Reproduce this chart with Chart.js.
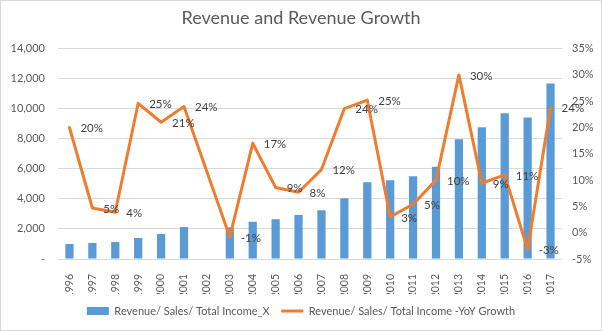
<!DOCTYPE html>
<html>
<head>
<meta charset="utf-8">
<script src="https://cdn.jsdelivr.net/npm/chart.js@4"></script>
<style>
  body { margin: 0; background: #fff; }
  #wrap { width: 600px; height: 329px; border: 1px solid #d9d9d9; }
</style>
</head>
<body>
<div id="wrap"><canvas id="revChart" width="600" height="329"></canvas></div>
<script>
// データ
const years = ['1996','1997','1998','1999','2000','2001','2002','2003','2004','2005','2006',
               '2007','2008','2009','2010','2011','2012','2013','2014','2015','2016','2017'];
const revenue = [1000, 1060, 1130, 1390, 1660, 2130, null, 2120, 2480, 2650, 2920,
                 3250, 4050, 5110, 5240, 5510, 6130, 7960, 8760, 9690, 9420, 11680];
const growth = [20, 4.7, 3.9, 24.6, 21, 24, null, -0.8, 17, 8.6, 7.7,
                12, 23.6, 25.2, 3, 5.4, 10, 30, 9.4, 11, -3.2, 23.8];

const FONT = 'Lato, "Open Sans", sans-serif';
const GREY = '#595959';

// 折れ線のラベル（点の右側）
const growthLabels = {
  id: 'growthLabels',
  afterDatasetsDraw(chart) {
    const meta = chart.getDatasetMeta(1);
    const ctx = chart.ctx;
    ctx.save();
    ctx.font = '11.5px ' + FONT;
    ctx.fillStyle = '#404040';
    ctx.textAlign = 'left';
    ctx.textBaseline = 'middle';
    meta.data.forEach((pt, i) => {
      const v = growth[i];
      if (v === null) return;
      ctx.fillText(Math.round(v) + '%', pt.x + 11, pt.y + 1);
    });
    ctx.restore();
  }
};

const ctx = document.getElementById('revChart').getContext('2d');
const revChart = new Chart(ctx, {
  data: {
    labels: years,
    datasets: [{
      type: 'bar',
      label: 'Revenue/ Sales/ Total Income_X',
      data: revenue,
      backgroundColor: '#5B9BD5',
      borderWidth: 0,
      barPercentage: 0.36,
      categoryPercentage: 1,
      yAxisID: 'y',
      order: 2,
      pointStyle: 'rect'
    }, {
      type: 'line',
      label: 'Revenue/ Sales/ Total Income -YoY Growth',
      data: growth,
      borderColor: '#ED7D31',
      backgroundColor: '#ED7D31',
      borderWidth: 3,
      borderJoinStyle: 'round',
      borderCapStyle: 'round',
      pointRadius: 0,
      tension: 0,
      spanGaps: true,
      yAxisID: 'y1',
      order: 1,
      pointStyle: 'line'
    }]
  },
  options: {
    responsive: false,
    animation: false,
    devicePixelRatio: 1,
    layout: { padding: { left: 0, right: 0, top: 0, bottom: 3.5 } },
    plugins: {
      title: {
        display: true,
        text: 'Revenue and Revenue Growth',
        color: GREY,
        font: { family: FONT, size: 18, weight: 'normal' },
        padding: { top: 6, bottom: 20 }
      },
      legend: {
        position: 'bottom',
        labels: {
          usePointStyle: true,
          pointStyleWidth: 22,
          boxHeight: 8,
          padding: 11.5,
          color: GREY,
          font: { family: FONT, size: 11 },
          sort: (a, b) => a.datasetIndex - b.datasetIndex
        }
      },
      tooltip: { enabled: false }
    },
    scales: {
      x: {
        grid: { display: false },
        border: { display: false },
        ticks: { color: GREY, font: { family: FONT, size: 10.5 }, minRotation: 90, maxRotation: 90, padding: 7 },
        afterFit: (s) => { s.height = 35; }
      },
      y: {
        position: 'left',
        min: 0, max: 14000,
        grid: { color: '#d9d9d9', drawTicks: false },
        border: { display: false },
        ticks: {
          stepSize: 2000, padding: 13, color: GREY, font: { family: FONT, size: 11 },
          callback: (v) => v === 0 ? '-' : v.toLocaleString('en-US')
        },
        afterFit: (s) => { s.width = 57; }
      },
      y1: {
        position: 'right',
        min: -5, max: 35,
        grid: { display: false },
        border: { display: false },
        ticks: {
          stepSize: 5, padding: 2, color: GREY, font: { family: FONT, size: 11 },
          callback: (v) => v + '%'
        },
        afterFit: (s) => { s.width = 39; }
      }
    }
  },
  plugins: [growthLabels]
});
</script>
</body>
</html>
